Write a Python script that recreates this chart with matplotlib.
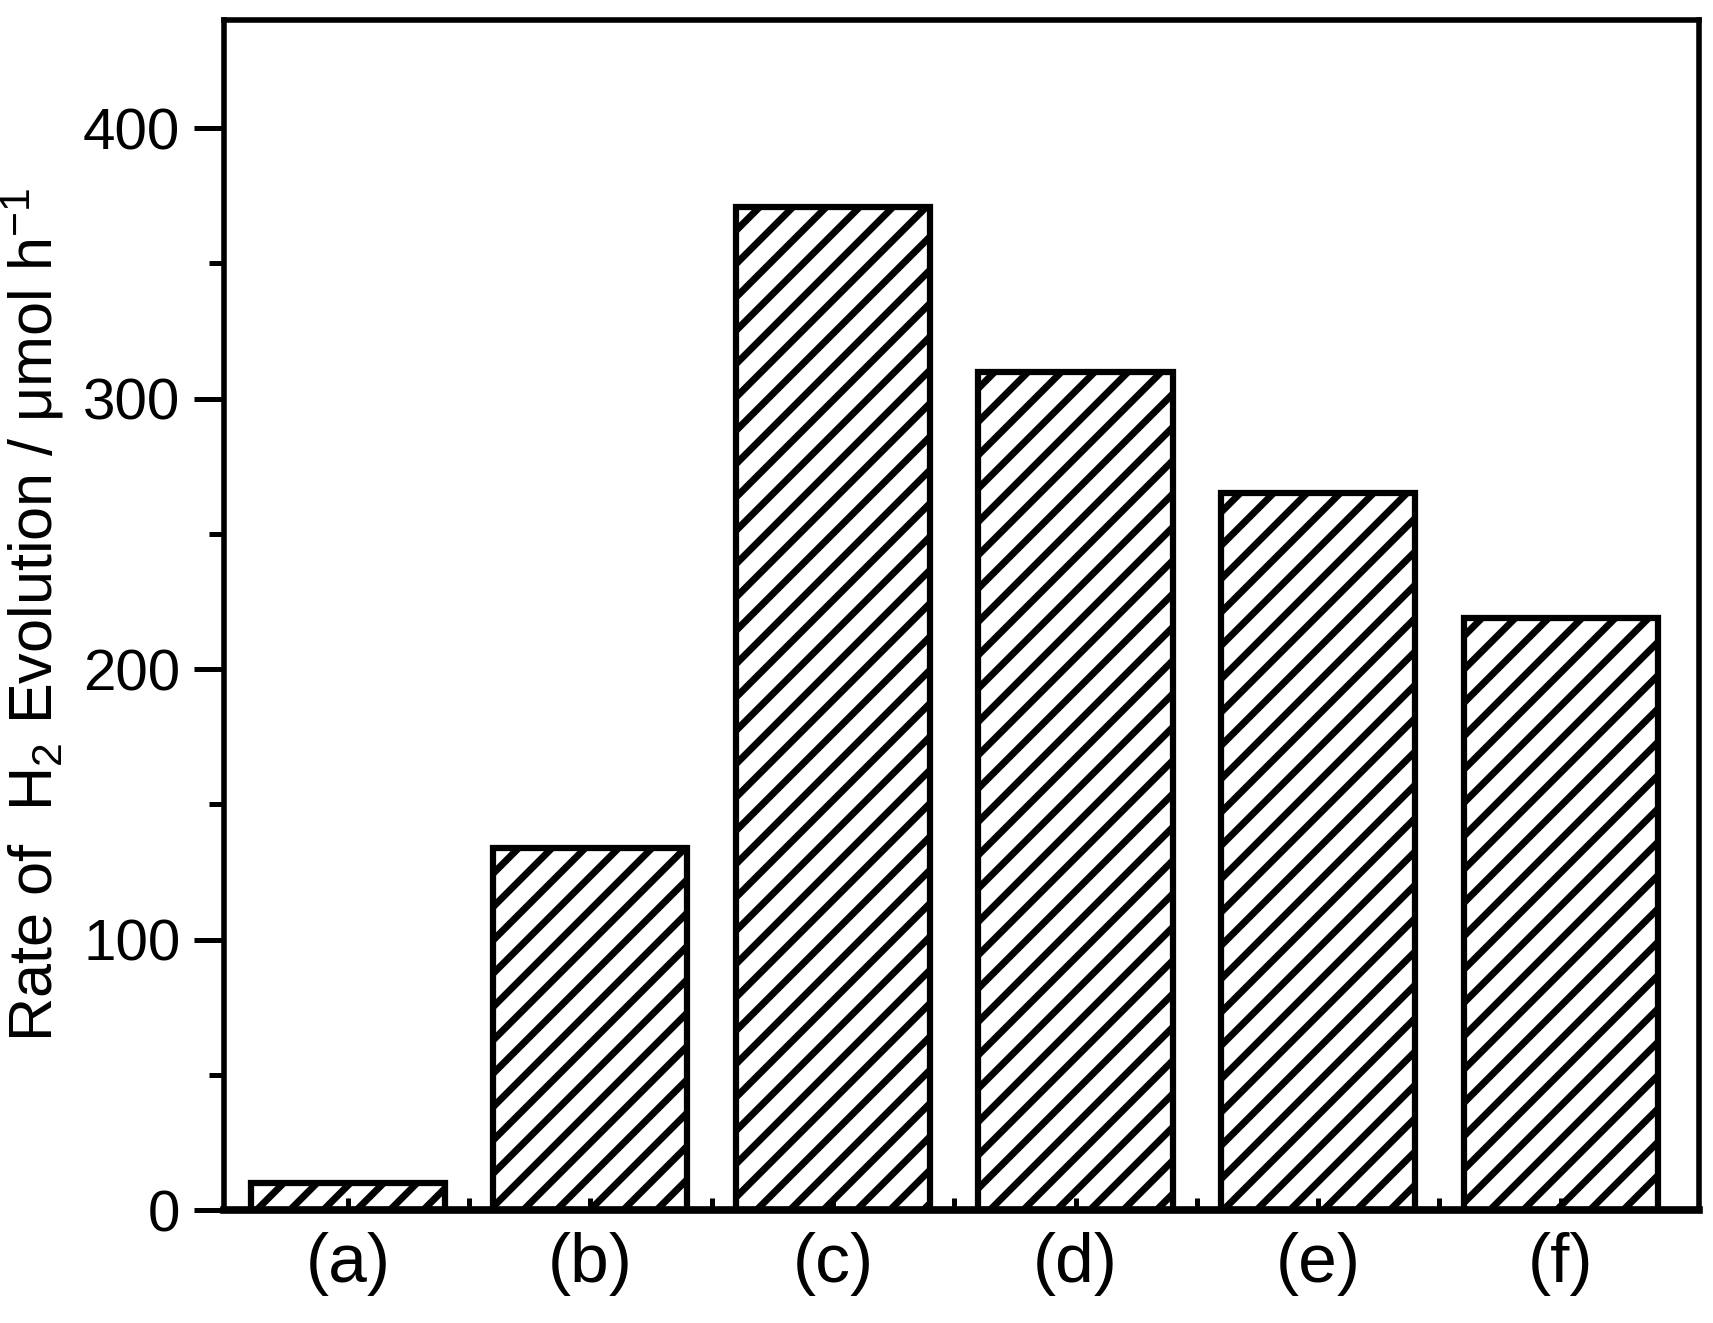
import matplotlib
matplotlib.use("Agg")
import matplotlib.pyplot as plt
from matplotlib.ticker import FixedLocator, MultipleLocator

plt.rcParams['font.family'] = ['Liberation Sans', 'DejaVu Sans']
plt.rcParams['mathtext.fontset'] = 'custom'
plt.rcParams['mathtext.rm'] = 'Liberation Sans'
plt.rcParams['mathtext.it'] = 'Liberation Sans:italic'
plt.rcParams['hatch.linewidth'] = 5

# data
samples = ['(a)', '(b)', '(c)', '(d)', '(e)', '(f)']
rates = [10, 134, 371, 310, 265, 219]

fig = plt.figure(figsize=(17.13, 13.23), dpi=100)
ax = fig.add_axes([0.1308, 0.0854, 0.861, 0.8995])

pos = list(range(len(samples)))
ax.bar(pos, rates, width=0.8, color='white', edgecolor='black',
       linewidth=4.5, hatch='/', zorder=1)

ax.set_xlim(-0.51, 5.57)
ax.set_ylim(0, 440)

ax.set_xticks(pos)
ax.set_xticklabels(samples)
ax.xaxis.set_minor_locator(FixedLocator([p + 0.5 for p in pos[:-1]]))
ax.yaxis.set_major_locator(MultipleLocator(100))
ax.yaxis.set_minor_locator(MultipleLocator(50))

ax.tick_params(axis='x', which='both', direction='in', length=8.5, width=3.6,
               labelsize=50, pad=16)
ax.tick_params(axis='y', which='major', direction='out', length=21.5, width=3.6,
               labelsize=42, pad=10)
ax.tick_params(axis='y', which='minor', direction='out', length=10.5, width=3.6)

for s in ['top', 'left', 'right']:
    ax.spines[s].set_linewidth(4)
ax.spines['bottom'].set_linewidth(5.5)

ax.set_ylabel(r'Rate of  H$_2$ Evolution / μmol h$^{-1}$', fontsize=44, labelpad=12)

fig.savefig('out.png', dpi=100)
